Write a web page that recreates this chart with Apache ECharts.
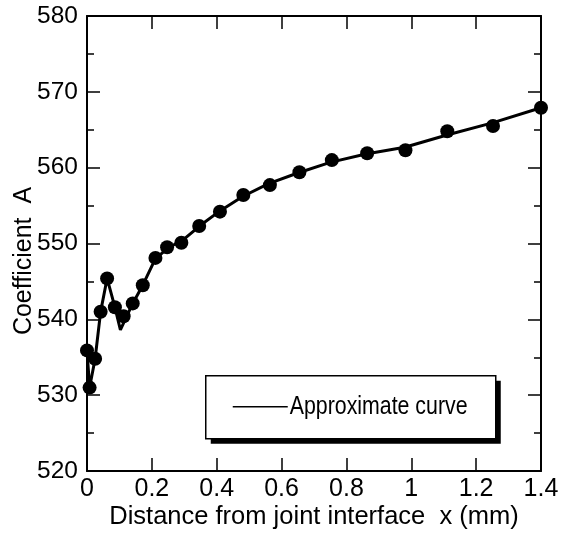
<!DOCTYPE html>
<html>
<head>
<meta charset="utf-8">
<script src="https://cdn.jsdelivr.net/npm/echarts@6/dist/echarts.min.js"></script>
<style>
  html, body { margin: 0; padding: 0; background: #fff; }
  #chart { width: 574px; height: 533px; }
</style>
</head>
<body>
<div id="chart"></div>
<script>
// Measured coefficient A versus distance from the joint interface (mm)
const distance = [0.000, 0.008, 0.025, 0.042, 0.062, 0.086, 0.113, 0.141, 0.172, 0.211, 0.247, 0.291,
                  0.346, 0.410, 0.482, 0.564, 0.655, 0.755, 0.864, 0.982, 1.111, 1.252, 1.400];
const coefficient = [535.9, 531.0, 534.8, 541.0, 545.4, 541.6, 540.4, 542.1, 544.5, 548.1, 549.5, 550.1,
                     552.3, 554.2, 556.4, 557.7, 559.4, 561.0, 561.9, 562.3, 564.8, 565.5, 567.9];

// Approximate curve vertices
const curveX = [0.000, 0.008, 0.025, 0.042, 0.062, 0.086, 0.103, 0.141, 0.172, 0.211, 0.250, 0.300,
                0.350, 0.410, 0.480, 0.560, 0.650, 0.750, 0.860, 0.980, 1.110, 1.250, 1.400];
const curveY = [535.9, 531.0, 534.8, 541.0, 545.4, 541.6, 538.6, 542.1, 544.5, 548.0, 549.4, 550.6,
                552.4, 554.3, 556.2, 557.9, 559.3, 560.7, 561.8, 562.7, 564.3, 565.9, 567.9];

// Axis ranges and tick steps
const xRange = [0, 1.4], xStep = 0.2;
const yRange = [520, 580], yStep = 10;

const seriesName = 'Approximate curve';
const xTitle = 'Distance from joint interface  x (mm)';
const yTitle = 'Coefficient  A';

const FONT = '"Liberation Sans", Arial, Helvetica, sans-serif';
const black = '#000';

function xAxisDef(pos, labels) {
  return {
    type: 'value', position: pos, min: xRange[0], max: xRange[1], interval: xStep,
    axisLine: { show: true, onZero: false, lineStyle: { color: black, width: 2 } },
    axisTick: { show: true, inside: true, length: 13, lineStyle: { color: black, width: 1.5 } },
    axisLabel: { show: labels, color: black, fontSize: 25, fontFamily: FONT, margin: 6 },
    splitLine: { show: false },
    name: labels ? xTitle : '', nameLocation: 'middle', nameGap: 33, nameMoveOverlap: false,
    nameTextStyle: { color: black, fontSize: 25.5, fontFamily: FONT }
  };
}
function yAxisDef(pos, labels) {
  return {
    type: 'value', position: pos, min: yRange[0], max: yRange[1], interval: yStep,
    axisLine: { show: true, onZero: false, lineStyle: { color: black, width: 2 } },
    axisTick: { show: true, inside: true, length: 13, lineStyle: { color: black, width: 1.5 } },
    minorTick: { show: true, splitNumber: 2, length: 7, lineStyle: { color: black, width: 1.5 } },
    axisLabel: { show: labels, color: black, fontSize: 24.5, fontFamily: FONT, margin: 9 },
    splitLine: { show: false }, minorSplitLine: { show: false }
  };
}

const chart = echarts.init(document.getElementById('chart'), null, { renderer: 'canvas' });
chart.setOption({
  animation: false,
  backgroundColor: '#fff',
  grid: { left: 87, right: 33, top: 16, bottom: 62, containLabel: false, outerBoundsMode: 'none' },
  xAxis: [xAxisDef('bottom', true), xAxisDef('top', false)],
  yAxis: [yAxisDef('left', true), yAxisDef('right', false)],
  series: [
    {
      name: seriesName, type: 'line', xAxisIndex: 0, yAxisIndex: 0,
      data: curveX.map((x, i) => [x, curveY[i]]),
      symbol: 'none', showSymbol: false, smooth: false,
      lineStyle: { color: black, width: 3 }, z: 2
    },
    {
      name: 'Measured', type: 'scatter', xAxisIndex: 0, yAxisIndex: 0,
      data: distance.map((x, i) => [x, coefficient[i]]),
      symbol: 'circle', symbolSize: 14,
      itemStyle: { color: black, opacity: 1 }, z: 3
    }
  ],
  graphic: [
    {
      type: 'text', x: 24, y: 261, rotation: Math.PI / 2,
      style: { text: yTitle, font: '25px ' + FONT, fill: black, align: 'center', verticalAlign: 'middle' }
    },
    {
      type: 'group', left: 205, top: 375,
      children: [
        { type: 'rect', shape: { x: 5, y: 5, width: 290, height: 63 }, style: { fill: black } },
        { type: 'rect', shape: { x: 0, y: 0, width: 290, height: 63 }, style: { fill: '#fff', stroke: black, lineWidth: 1.5 } },
        { type: 'line', shape: { x1: 27, y1: 31, x2: 82, y2: 31 }, style: { stroke: black, lineWidth: 1.5 } },
        { type: 'text', x: 84, y: 31, scaleX: 0.82,
          style: { text: seriesName, font: '26px ' + FONT, fill: black, align: 'left', verticalAlign: 'middle' } }
      ]
    }
  ]
});
</script>
</body>
</html>
